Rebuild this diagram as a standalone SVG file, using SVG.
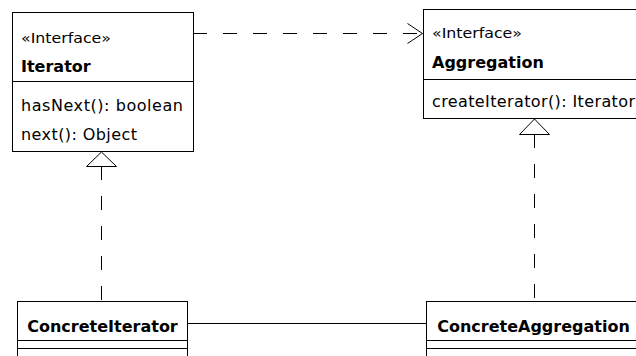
<svg xmlns="http://www.w3.org/2000/svg" width="636" height="356" viewBox="0 0 636 356">
  <style>
    .box { fill: #ffffff; stroke: #000000; stroke-width: 1; }
    .sep { stroke: #000000; stroke-width: 1; }
    .txt { font-family: "DejaVu Sans", "Liberation Sans", sans-serif; font-size: 16px; fill: #000000; }
    .stereo { font-family: "DejaVu Sans", "Liberation Sans", sans-serif; font-size: 14.5px; fill: #000000; }
    .name { font-family: "DejaVu Sans", "Liberation Sans", sans-serif; font-size: 16px; font-weight: bold; fill: #000000; }
    .edge { fill: none; stroke: #000000; stroke-width: 1; }
    .dash { stroke-dasharray: 14 16; }
    .tri { fill: #ffffff; stroke: #000000; stroke-width: 1; }
  </style>
  <defs>
    <marker id="open-arrow" markerUnits="userSpaceOnUse" markerWidth="20" markerHeight="24" refX="16" refY="11" orient="auto">
      <path d="M1,1 L16,11 L1,21" fill="none" stroke="#000000" stroke-width="1"/>
    </marker>
  </defs>
  <rect width="636" height="356" fill="#ffffff"/>

  <!-- connectors -->
  <g id="connectors">
    <!-- Iterator uses Aggregation (dependency) -->
    <line class="edge dash" x1="193" y1="33.5" x2="422.5" y2="33.5" marker-end="url(#open-arrow)"/>
    <!-- ConcreteIterator realizes Iterator -->
    <line class="edge dash" x1="101.5" y1="166" x2="101.5" y2="301.5"/>
    <polygon class="tri" points="101.5,152 86.5,166.5 116.5,166.5"/>
    <!-- ConcreteAggregation realizes Aggregation -->
    <line class="edge dash" x1="534.5" y1="134" x2="534.5" y2="301.5"/>
    <polygon class="tri" points="534.5,119 519.5,134.5 549.5,134.5"/>
    <!-- association between the concrete classes -->
    <line class="edge" x1="187.5" y1="323.5" x2="426.5" y2="323.5"/>
  </g>

  <g id="Iterator">
    <rect class="box" x="12.5" y="12.5" width="181" height="139"/>
    <line class="sep" x1="12.5" y1="81.5" x2="193.5" y2="81.5"/>
    <text class="stereo" x="21" y="43" textLength="90" lengthAdjust="spacingAndGlyphs">«Interface»</text>
    <text class="name" x="21" y="72">Iterator</text>
    <text class="txt" x="21" y="111" textLength="162">hasNext(): boolean</text>
    <text class="txt" x="21" y="140" textLength="116">next(): Object</text>
  </g>

  <g id="Aggregation">
    <rect class="box" x="423.5" y="9.5" width="230" height="109"/>
    <line class="sep" x1="423.5" y1="79.5" x2="653.5" y2="79.5"/>
    <text class="stereo" x="432" y="38" textLength="90" lengthAdjust="spacingAndGlyphs">«Interface»</text>
    <text class="name" x="432" y="68">Aggregation</text>
    <text class="txt" x="432" y="106.5" textLength="203">createIterator(): Iterator</text>
  </g>

  <g id="ConcreteIterator">
    <rect class="box" x="17.5" y="301.5" width="170" height="70"/>
    <line class="sep" x1="17.5" y1="340.5" x2="187.5" y2="340.5"/>
    <line class="sep" x1="17.5" y1="348.5" x2="187.5" y2="348.5"/>
    <text class="name" x="102.5" y="331.5" text-anchor="middle">ConcreteIterator</text>
  </g>

  <g id="ConcreteAggregation">
    <rect class="box" x="426.5" y="301.5" width="230" height="70"/>
    <line class="sep" x1="426.5" y1="340.5" x2="656.5" y2="340.5"/>
    <line class="sep" x1="426.5" y1="348.5" x2="656.5" y2="348.5"/>
    <text class="name" x="533.5" y="331.5" text-anchor="middle">ConcreteAggregation</text>
  </g>
</svg>
